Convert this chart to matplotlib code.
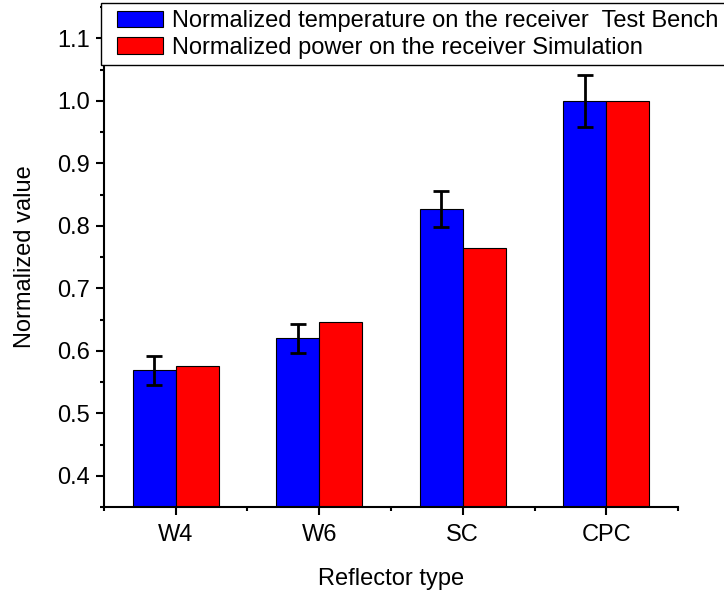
import matplotlib.pyplot as plt
from matplotlib.patches import Rectangle
import numpy as np

plt.rcParams['font.family'] = ['Liberation Sans', 'DejaVu Sans']

categories = ['W4', 'W6', 'SC', 'CPC']
test_bench = [0.569, 0.620, 0.827, 1.000]
test_bench_err = [0.023, 0.023, 0.029, 0.041]
simulation = [0.576, 0.646, 0.764, 1.000]

fig = plt.figure(figsize=(7.24, 5.94), dpi=100)
ax = fig.add_axes([0.1436, 0.1465, 0.7929, 0.8413])

x = np.arange(1, len(categories) + 1)
w = 0.3
ax.bar(x - w / 2, test_bench, w, color='#0000ff', edgecolor='black', linewidth=0.8,
       label='Normalized temperature on the receiver  Test Bench', zorder=2)
ax.errorbar(x - w / 2, test_bench, yerr=test_bench_err, fmt='none', ecolor='black',
            elinewidth=2, capsize=6, capthick=2, zorder=3)
ax.bar(x + w / 2, simulation, w, color='#ff0000', edgecolor='black', linewidth=0.8,
       label='Normalized power on the receiver Simulation', zorder=2)

ax.set_xlim(0.5, 4.5)
ax.set_ylim(0.35, 1.15)
ax.set_xticks(x)
ax.set_xticklabels(categories)
ax.set_xticks([0.5, 1.5, 2.5, 3.5, 4.5], minor=True)
ax.set_yticks(np.arange(0.4, 1.11, 0.1))
ax.set_yticks(np.arange(0.35, 1.16, 0.05), minor=True)
ax.yaxis.set_major_formatter(plt.FormatStrFormatter('%.1f'))

for side in ['top', 'right']:
    ax.spines[side].set_visible(False)
for side in ['left', 'bottom']:
    ax.spines[side].set_linewidth(1.5)
ax.tick_params(which='major', direction='out', length=6, width=1.5, labelsize=17, pad=4)
ax.tick_params(axis='x', which='major', pad=6)
ax.tick_params(which='minor', direction='out', length=3, width=1.5)

ax.set_xlabel('Reflector type', fontsize=17, labelpad=16)
ax.set_ylabel('Normalized value', fontsize=17, labelpad=15)

# legend box runs off the right edge in the original
box = Rectangle((0.1395, 0.8906), 0.95, 0.1043, transform=fig.transFigure,
                facecolor='white', edgecolor='black', linewidth=1.0,
                clip_on=False, zorder=4)
ax.add_patch(box)
leg = ax.legend(loc='upper left', bbox_to_anchor=(0.1616, 0.983), bbox_transform=fig.transFigure,
                fontsize=17, frameon=False,
                handlelength=1.95, handleheight=0.7, borderpad=0, labelspacing=0.2,
                handletextpad=0.4, borderaxespad=0)
for h in leg.legend_handles:
    h.set_linewidth(0.8)

fig.savefig('out.png', dpi=100)
